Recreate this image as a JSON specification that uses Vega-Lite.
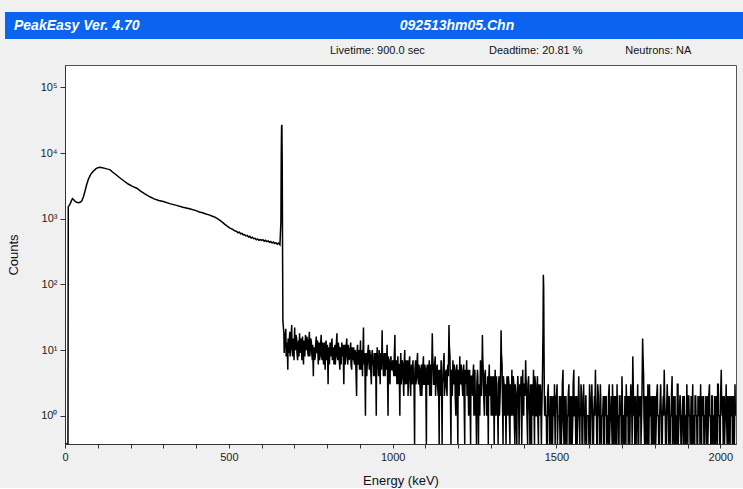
{
  "$schema": "https://vega.github.io/schema/vega-lite/v6.json",
  "background": "#f0f0f0",
  "padding": {"left": 5, "top": 12, "right": 0, "bottom": 0},
  "spacing": 26,
  "bounds": "flush",
  "config": {
    "font": "Liberation Sans",
    "view": {"stroke": "#555"}
  },
  "vconcat": [
    {
      "width": 738,
      "height": 27,
      "view": {"fill": "#0a64f0", "stroke": null},
      "data": {"values": [
        {"t": "PeakEasy Ver. 4.70", "pos": "left"},
        {"t": "092513hm05.Chn", "pos": "center"}
      ]},
      "layer": [
        {
          "transform": [{"filter": "datum.pos === 'left'"}],
          "mark": {"type": "text", "align": "left", "baseline": "middle", "fontStyle": "italic", "fontWeight": "bold", "fontSize": 14, "color": "white"},
          "encoding": {
            "text": {"field": "t"},
            "x": {"field": "pos", "type": "nominal", "scale": {"type": "point", "domain": ["left", "center"], "range": [9, 452], "padding": 0}, "axis": null}
          }
        },
        {
          "transform": [{"filter": "datum.pos === 'center'"}],
          "mark": {"type": "text", "align": "center", "baseline": "middle", "fontStyle": "italic", "fontWeight": "bold", "fontSize": 14, "color": "white"},
          "encoding": {
            "text": {"field": "t"},
            "x": {"field": "pos", "type": "nominal", "scale": {"type": "point", "domain": ["left", "center"], "range": [9, 452], "padding": 0}, "axis": null}
          }
        }
      ]
    },
    {
      "spacing": 0,
      "bounds": "flush",
      "hconcat": [
        {
          "width": 60,
          "height": 379,
          "view": {"stroke": null},
          "data": {"values": [{"t": ""}]},
          "mark": {"type": "text"},
          "encoding": {"text": {"field": "t"}}
        },
        {
          "width": 671,
          "height": 379,
          "view": {"fill": "white", "stroke": "#555"},
          "title": {
            "text": "Livetime: 900.0 sec\u00a0\u00a0\u00a0\u00a0\u00a0\u00a0\u00a0\u00a0\u00a0\u00a0\u00a0\u00a0\u00a0\u00a0\u00a0\u00a0\u00a0\u00a0\u00a0\u00a0\u00a0Deadtime: 20.81 %\u00a0\u00a0\u00a0\u00a0\u00a0\u00a0\u00a0\u00a0\u00a0\u00a0\u00a0\u00a0\u00a0\u00a0Neutrons: NA",
            "anchor": "start",
            "frame": "group",
            "dx": 265,
            "offset": 9,
            "fontSize": 11,
            "fontWeight": "normal",
            "color": "#111"
          },
          "data": {"values": [
            {"e":0,"c":0},{"e":9,"c":0},{"e":10,"c":1520},{"e":13,"c":1600},{"e":16,"c":1700},{"e":20,"c":1900},{"e":23,"c":2020},{"e":26,"c":1960},{"e":30,"c":1860},{"e":35,"c":1780},{"e":41,"c":1750},{"e":46,"c":1780},{"e":51,"c":1860},{"e":56,"c":2150},{"e":61,"c":2630},{"e":66,"c":3300},{"e":71,"c":3970},{"e":78,"c":4700},{"e":86,"c":5300},{"e":94,"c":5750},{"e":100,"c":6000},{"e":107,"c":6100},{"e":114,"c":6000},{"e":122,"c":5850},{"e":130,"c":5700},{"e":137,"c":5600},{"e":145,"c":5150},{"e":155,"c":4720},{"e":168,"c":4180},{"e":180,"c":3760},{"e":193,"c":3380},{"e":206,"c":3120},{"e":219,"c":2920},{"e":232,"c":2620},{"e":245,"c":2380},{"e":259,"c":2160},{"e":272,"c":2010},{"e":286,"c":1900},{"e":300,"c":1830},{"e":320,"c":1700},{"e":340,"c":1600},{"e":360,"c":1500},{"e":380,"c":1420},{"e":400,"c":1330},{"e":410,"c":1270},{"e":420,"c":1235},{"e":430,"c":1180},{"e":440,"c":1145},{"e":448,"c":1100},{"e":456,"c":1065},{"e":464,"c":1010},{"e":472,"c":955},{"e":480,"c":890},{"e":488,"c":820},{"e":496,"c":765},{"e":504,"c":720},{"e":512,"c":690},
            {"e":516,"c":665},{"e":520,"c":650},{"e":524,"c":640},{"e":528,"c":612},{"e":532,"c":625},{"e":536,"c":590},{"e":540,"c":598},{"e":544,"c":568},{"e":548,"c":575},{"e":552,"c":548},{"e":556,"c":558},{"e":560,"c":528},{"e":564,"c":540},{"e":568,"c":508},{"e":572,"c":522},{"e":576,"c":497},{"e":580,"c":503},{"e":584,"c":478},{"e":588,"c":492},{"e":592,"c":470},{"e":596,"c":482},{"e":600,"c":468},{"e":604,"c":480},{"e":608,"c":455},{"e":612,"c":470},{"e":616,"c":448},{"e":620,"c":460},{"e":624,"c":437},{"e":628,"c":450},{"e":632,"c":426},{"e":636,"c":441},{"e":640,"c":418},{"e":644,"c":432},{"e":648,"c":410},{"e":652,"c":425},{"e":656,"c":402},
            {"e":659,"c":900},{"e":660,"c":9000},{"e":661,"c":25500},{"e":662,"c":27000},{"e":663,"c":7000},{"e":664,"c":350},{"e":665,"c":28},{"e":666,"c":24},
            {"e":668,"c":18},{"e":669,"c":9},{"e":671,"c":14},{"e":672,"c":16},{"e":674,"c":21},{"e":675,"c":8},{"e":677,"c":11},{"e":678,"c":13},{"e":680,"c":5},{"e":681,"c":15},{"e":683,"c":9},{"e":684,"c":12},{"e":686,"c":19},{"e":687,"c":8},{"e":689,"c":13},{"e":690,"c":16},{"e":692,"c":24},{"e":693,"c":10},{"e":695,"c":8},{"e":696,"c":15},{"e":698,"c":12},{"e":699,"c":7},{"e":701,"c":22},{"e":702,"c":11},{"e":704,"c":10},{"e":705,"c":17},{"e":707,"c":15},{"e":708,"c":9},{"e":710,"c":7},{"e":711,"c":12},{"e":713,"c":14},{"e":714,"c":8},{"e":716,"c":18},{"e":717,"c":11},{"e":719,"c":9},{"e":720,"c":15},{"e":722,"c":13},{"e":723,"c":7},{"e":725,"c":16},{"e":726,"c":10},{"e":728,"c":6},{"e":729,"c":14},{"e":731,"c":12},{"e":732,"c":8},{"e":734,"c":17},{"e":735,"c":11},{"e":737,"c":10},{"e":738,"c":16},{"e":740,"c":14},{"e":741,"c":9},{"e":743,"c":8},{"e":744,"c":13},{"e":746,"c":19},{"e":747,"c":8},{"e":749,"c":11},{"e":750,"c":15},{"e":752,"c":13},{"e":753,"c":9},{"e":755,"c":7},{"e":756,"c":12},{"e":758,"c":4},{"e":759,"c":10},
            {"e":761,"c":11},{"e":762,"c":7},{"e":764,"c":8},{"e":765,"c":12},{"e":767,"c":16},{"e":768,"c":9},{"e":770,"c":10},{"e":771,"c":14},{"e":773,"c":6},{"e":774,"c":9},{"e":776,"c":13},{"e":777,"c":7},{"e":779,"c":9},{"e":780,"c":12},{"e":782,"c":17},{"e":783,"c":8},{"e":785,"c":7},{"e":786,"c":13},{"e":788,"c":12},{"e":789,"c":6},{"e":791,"c":10},{"e":792,"c":13},{"e":794,"c":5},{"e":795,"c":9},{"e":797,"c":14},{"e":798,"c":7},{"e":800,"c":9},{"e":801,"c":12},{"e":803,"c":3},{"e":804,"c":8},{"e":806,"c":11},{"e":807,"c":6},{"e":809,"c":13},{"e":810,"c":10},{"e":812,"c":8},{"e":813,"c":12},{"e":815,"c":15},{"e":816,"c":7},{"e":818,"c":10},{"e":819,"c":11},{"e":821,"c":6},{"e":822,"c":9},{"e":824,"c":12},{"e":825,"c":6},{"e":827,"c":9},{"e":828,"c":12},{"e":830,"c":18},{"e":831,"c":8},{"e":833,"c":7},{"e":834,"c":13},{"e":836,"c":11},{"e":837,"c":7},{"e":839,"c":5},{"e":840,"c":11},{"e":842,"c":10},{"e":843,"c":6},{"e":845,"c":13},{"e":846,"c":9},{"e":848,"c":8},{"e":849,"c":12},{"e":851,"c":3},{"e":852,"c":7},{"e":854,"c":12},{"e":855,"c":6},{"e":857,"c":9},{"e":858,"c":11},{"e":860,"c":15},{"e":861,"c":8},{"e":863,"c":6},{"e":864,"c":12},{"e":866,"c":10},{"e":867,"c":7},{"e":869,"c":8},{"e":870,"c":10},{"e":872,"c":13},{"e":873,"c":6},{"e":875,"c":5},{"e":876,"c":11},{"e":878,"c":9},{"e":879,"c":7},
            {"e":881,"c":11},{"e":882,"c":7},{"e":884,"c":6},{"e":885,"c":10},{"e":887,"c":9},{"e":888,"c":5},{"e":890,"c":2},{"e":891,"c":9},{"e":893,"c":12},{"e":894,"c":6},{"e":896,"c":7},{"e":897,"c":10},{"e":899,"c":5},{"e":900,"c":7},{"e":902,"c":14},{"e":903,"c":5},{"e":905,"c":8},{"e":906,"c":10},{"e":908,"c":4},{"e":909,"c":7},{"e":911,"c":22},{"e":912,"c":8},{"e":914,"c":6},{"e":915,"c":9},{"e":917,"c":1},{"e":918,"c":6},{"e":920,"c":9},{"e":921,"c":4},{"e":923,"c":7},{"e":924,"c":9},{"e":926,"c":12},{"e":927,"c":7},{"e":929,"c":5},{"e":930,"c":10},{"e":932,"c":8},{"e":933,"c":5},{"e":935,"c":3},{"e":936,"c":8},{"e":938,"c":10},{"e":939,"c":6},{"e":941,"c":6},{"e":942,"c":4},{"e":944,"c":9},{"e":945,"c":7},{"e":947,"c":4},{"e":948,"c":9},{"e":950,"c":1},{"e":951,"c":6},{"e":953,"c":11},{"e":954,"c":8},{"e":956,"c":5},{"e":957,"c":4},{"e":959,"c":10},{"e":960,"c":7},{"e":962,"c":3},{"e":963,"c":9},{"e":965,"c":8},{"e":966,"c":5},{"e":968,"c":20},{"e":969,"c":8},{"e":971,"c":6},{"e":972,"c":4},{"e":974,"c":9},{"e":975,"c":6},{"e":977,"c":4},{"e":978,"c":9},{"e":980,"c":7},{"e":981,"c":5},{"e":983,"c":12},{"e":984,"c":6},{"e":986,"c":1},{"e":987,"c":8},{"e":989,"c":6},{"e":990,"c":4},{"e":992,"c":3},{"e":993,"c":7},{"e":995,"c":8},{"e":996,"c":5},{"e":998,"c":5},{"e":999,"c":6},
            {"e":1001,"c":7},{"e":1002,"c":5},{"e":1004,"c":4},{"e":1005,"c":8},{"e":1007,"c":17},{"e":1008,"c":4},{"e":1010,"c":5},{"e":1011,"c":7},{"e":1013,"c":3},{"e":1014,"c":5},{"e":1016,"c":8},{"e":1017,"c":3},{"e":1019,"c":6},{"e":1020,"c":6},{"e":1022,"c":1},{"e":1023,"c":5},{"e":1025,"c":9},{"e":1026,"c":3},{"e":1028,"c":4},{"e":1029,"c":7},{"e":1031,"c":6},{"e":1032,"c":4},{"e":1034,"c":2},{"e":1035,"c":6},{"e":1037,"c":10},{"e":1038,"c":3},{"e":1040,"c":5},{"e":1041,"c":7},{"e":1043,"c":3},{"e":1044,"c":5},{"e":1046,"c":7},{"e":1047,"c":2},{"e":1049,"c":4},{"e":1050,"c":6},{"e":1052,"c":8},{"e":1053,"c":4},{"e":1055,"c":2},{"e":1056,"c":5},{"e":1058,"c":6},{"e":1059,"c":3},{"e":1061,"c":5},{"e":1062,"c":7},{"e":1064,"c":3},{"e":1065,"c":4},{"e":1067,"c":0},{"e":1068,"c":5},{"e":1070,"c":7},{"e":1071,"c":3},{"e":1073,"c":4},{"e":1074,"c":6},{"e":1076,"c":9},{"e":1077,"c":4},{"e":1079,"c":3},{"e":1080,"c":6},{"e":1082,"c":5},{"e":1083,"c":3},{"e":1085,"c":2},{"e":1086,"c":5},{"e":1088,"c":6},{"e":1089,"c":2},{"e":1091,"c":4},{"e":1092,"c":5},{"e":1094,"c":8},{"e":1095,"c":3},{"e":1097,"c":3},{"e":1098,"c":6},
            {"e":1100,"c":5},{"e":1101,"c":4},{"e":1103,"c":0},{"e":1104,"c":5},{"e":1106,"c":6},{"e":1107,"c":3},{"e":1109,"c":3},{"e":1110,"c":5},{"e":1112,"c":7},{"e":1113,"c":2},{"e":1115,"c":4},{"e":1116,"c":6},{"e":1118,"c":2},{"e":1119,"c":4},{"e":1121,"c":18},{"e":1122,"c":9},{"e":1124,"c":5},{"e":1125,"c":3},{"e":1127,"c":3},{"e":1128,"c":6},{"e":1130,"c":8},{"e":1131,"c":2},{"e":1133,"c":4},{"e":1134,"c":5},{"e":1136,"c":6},{"e":1137,"c":3},{"e":1139,"c":2},{"e":1140,"c":5},{"e":1142,"c":0},{"e":1143,"c":4},{"e":1145,"c":5},{"e":1146,"c":2},{"e":1148,"c":7},{"e":1149,"c":5},{"e":1151,"c":0},{"e":1152,"c":3},{"e":1154,"c":4},{"e":1155,"c":6},{"e":1157,"c":9},{"e":1158,"c":2},{"e":1160,"c":3},{"e":1161,"c":4},{"e":1163,"c":5},{"e":1164,"c":3},{"e":1166,"c":2},{"e":1167,"c":5},{"e":1169,"c":6},{"e":1170,"c":4},{"e":1172,"c":24},{"e":1173,"c":12},{"e":1175,"c":8},{"e":1176,"c":3},{"e":1178,"c":0},{"e":1179,"c":5},{"e":1181,"c":4},{"e":1182,"c":2},{"e":1184,"c":7},{"e":1185,"c":4},{"e":1187,"c":3},{"e":1188,"c":6},{"e":1190,"c":5},{"e":1191,"c":2},{"e":1193,"c":1},{"e":1194,"c":4},{"e":1196,"c":6},{"e":1197,"c":3},{"e":1199,"c":0},{"e":1200,"c":5},{"e":1202,"c":4},{"e":1203,"c":2},{"e":1205,"c":8},{"e":1206,"c":4},{"e":1208,"c":3},{"e":1209,"c":6},{"e":1211,"c":5},{"e":1212,"c":3},{"e":1214,"c":2},{"e":1215,"c":4},{"e":1217,"c":6},{"e":1218,"c":2},{"e":1220,"c":0},{"e":1221,"c":5},{"e":1223,"c":4},{"e":1224,"c":3},{"e":1226,"c":7},{"e":1227,"c":2},{"e":1229,"c":3},{"e":1230,"c":5},{"e":1232,"c":1},{"e":1233,"c":3},{"e":1235,"c":5},{"e":1236,"c":2},{"e":1238,"c":0},{"e":1239,"c":4},
            {"e":1241,"c":4},{"e":1242,"c":3},{"e":1244,"c":2},{"e":1245,"c":4},{"e":1247,"c":6},{"e":1248,"c":1},{"e":1250,"c":3},{"e":1251,"c":5},{"e":1253,"c":1},{"e":1254,"c":2},{"e":1256,"c":0},{"e":1257,"c":3},{"e":1259,"c":5},{"e":1260,"c":4},{"e":1262,"c":0},{"e":1263,"c":2},{"e":1265,"c":3},{"e":1266,"c":1},{"e":1268,"c":7},{"e":1269,"c":4},{"e":1271,"c":2},{"e":1272,"c":3},{"e":1274,"c":17},{"e":1275,"c":8},{"e":1277,"c":4},{"e":1278,"c":2},{"e":1280,"c":1},{"e":1281,"c":4},{"e":1283,"c":5},{"e":1284,"c":2},{"e":1286,"c":3},{"e":1287,"c":1},{"e":1289,"c":2},{"e":1290,"c":4},{"e":1292,"c":0},{"e":1293,"c":3},{"e":1295,"c":6},{"e":1296,"c":2},{"e":1298,"c":3},{"e":1299,"c":4},{"e":1301,"c":1},{"e":1302,"c":3},{"e":1304,"c":4},{"e":1305,"c":1},{"e":1307,"c":2},{"e":1308,"c":4},{"e":1310,"c":0},{"e":1311,"c":2},{"e":1313,"c":5},{"e":1314,"c":1},{"e":1316,"c":3},{"e":1317,"c":4},{"e":1319,"c":1},{"e":1320,"c":2},{"e":1322,"c":0},{"e":1323,"c":3},{"e":1325,"c":4},{"e":1326,"c":1},{"e":1328,"c":2},{"e":1329,"c":3},{"e":1331,"c":20},{"e":1332,"c":9},{"e":1334,"c":6},{"e":1335,"c":2},{"e":1337,"c":0},{"e":1338,"c":4},{"e":1340,"c":3},{"e":1341,"c":1},
            {"e":1343,"c":2},{"e":1344,"c":3},{"e":1346,"c":0},{"e":1347,"c":1},{"e":1349,"c":4},{"e":1350,"c":2},{"e":1352,"c":1},{"e":1353,"c":4},{"e":1355,"c":3},{"e":1356,"c":1},{"e":1358,"c":0},{"e":1359,"c":3},{"e":1361,"c":2},{"e":1362,"c":1},{"e":1364,"c":5},{"e":1365,"c":2},{"e":1367,"c":1},{"e":1368,"c":4},{"e":1370,"c":3},{"e":1371,"c":1},{"e":1373,"c":0},{"e":1374,"c":3},{"e":1376,"c":2},{"e":1377,"c":1},{"e":1379,"c":0},{"e":1380,"c":2},{"e":1382,"c":4},{"e":1383,"c":3},{"e":1385,"c":1},{"e":1386,"c":0},{"e":1388,"c":3},{"e":1389,"c":2},{"e":1391,"c":2},{"e":1392,"c":4},{"e":1394,"c":0},{"e":1395,"c":1},{"e":1397,"c":5},{"e":1398,"c":2},{"e":1400,"c":1},{"e":1401,"c":3},{"e":1403,"c":3},{"e":1404,"c":2},{"e":1406,"c":7},{"e":1407,"c":4},{"e":1409,"c":2},{"e":1410,"c":1},{"e":1412,"c":0},{"e":1413,"c":3},{"e":1415,"c":4},{"e":1416,"c":2},{"e":1418,"c":1},{"e":1419,"c":0},{"e":1421,"c":3},{"e":1422,"c":2},{"e":1424,"c":0},{"e":1425,"c":3},{"e":1427,"c":2},{"e":1428,"c":1},{"e":1430,"c":5},{"e":1431,"c":2},{"e":1433,"c":0},{"e":1434,"c":4},{"e":1436,"c":3},{"e":1437,"c":1},{"e":1439,"c":1},{"e":1440,"c":2},{"e":1442,"c":4},{"e":1443,"c":1},{"e":1445,"c":0},{"e":1446,"c":3},{"e":1448,"c":2},{"e":1449,"c":1},{"e":1451,"c":3},{"e":1452,"c":2},{"e":1454,"c":0},{"e":1455,"c":1},
            {"e":1457,"c":3},{"e":1459,"c":20},{"e":1460,"c":140},{"e":1461,"c":90},{"e":1462,"c":12},{"e":1463,"c":2},{"e":1464,"c":1},
            {"e":1466,"c":2},{"e":1467,"c":1},{"e":1469,"c":1},{"e":1470,"c":0},{"e":1472,"c":0},{"e":1473,"c":2},{"e":1475,"c":3},{"e":1476,"c":1},{"e":1478,"c":1},{"e":1479,"c":0},{"e":1481,"c":2},{"e":1482,"c":1},{"e":1484,"c":0},{"e":1485,"c":2},{"e":1487,"c":1},{"e":1488,"c":0},{"e":1490,"c":2},{"e":1491,"c":1},{"e":1493,"c":1},{"e":1494,"c":3},
            {"e":1496,"c":0},{"e":1497,"c":1},{"e":1499,"c":2},{"e":1500,"c":2},{"e":1502,"c":3},{"e":1503,"c":0},{"e":1505,"c":1},{"e":1506,"c":1},{"e":1508,"c":1},{"e":1509,"c":2},{"e":1511,"c":0},{"e":1512,"c":1},{"e":1514,"c":2},{"e":1515,"c":0},{"e":1517,"c":1},{"e":1518,"c":3},{"e":1520,"c":5},{"e":1521,"c":1},{"e":1523,"c":0},{"e":1524,"c":2},
            {"e":1526,"c":1},{"e":1527,"c":0},{"e":1529,"c":2},{"e":1530,"c":1},{"e":1532,"c":0},{"e":1533,"c":1},{"e":1535,"c":1},{"e":1536,"c":2},{"e":1538,"c":3},{"e":1539,"c":0},{"e":1541,"c":1},{"e":1542,"c":2},{"e":1544,"c":0},{"e":1545,"c":1},{"e":1547,"c":2},{"e":1548,"c":0},{"e":1550,"c":1},{"e":1551,"c":3},{"e":1553,"c":5},{"e":1554,"c":1},
            {"e":1556,"c":1},{"e":1557,"c":2},{"e":1559,"c":0},{"e":1560,"c":1},{"e":1562,"c":2},{"e":1563,"c":0},{"e":1565,"c":1},{"e":1566,"c":1},{"e":1568,"c":4},{"e":1569,"c":2},{"e":1571,"c":0},{"e":1572,"c":1},{"e":1574,"c":1},{"e":1575,"c":3},{"e":1577,"c":2},{"e":1578,"c":0},{"e":1580,"c":0},{"e":1581,"c":1},{"e":1583,"c":3},{"e":1584,"c":1},
            {"e":1586,"c":1},{"e":1587,"c":0},{"e":1589,"c":2},{"e":1590,"c":2},{"e":1592,"c":0},{"e":1593,"c":1},{"e":1595,"c":1},{"e":1596,"c":1},{"e":1598,"c":1},{"e":1599,"c":0},{"e":1601,"c":3},{"e":1602,"c":2},{"e":1604,"c":0},{"e":1605,"c":1},{"e":1607,"c":2},{"e":1608,"c":3},{"e":1610,"c":1},{"e":1611,"c":0},{"e":1613,"c":0},{"e":1614,"c":1},
            {"e":1616,"c":2},{"e":1617,"c":1},{"e":1619,"c":5},{"e":1620,"c":2},{"e":1622,"c":1},{"e":1623,"c":0},{"e":1625,"c":0},{"e":1626,"c":3},{"e":1628,"c":2},{"e":1629,"c":1},{"e":1631,"c":1},{"e":1632,"c":0},{"e":1634,"c":3},{"e":1635,"c":2},{"e":1637,"c":0},{"e":1638,"c":1},{"e":1640,"c":1},{"e":1641,"c":1},{"e":1643,"c":2},{"e":1644,"c":0},
            {"e":1646,"c":0},{"e":1647,"c":2},{"e":1649,"c":1},{"e":1650,"c":1},{"e":1652,"c":2},{"e":1653,"c":0},{"e":1655,"c":1},{"e":1656,"c":1},{"e":1658,"c":0},{"e":1659,"c":2},{"e":1661,"c":3},{"e":1662,"c":0},{"e":1664,"c":1},{"e":1665,"c":1},{"e":1667,"c":2},{"e":1668,"c":1},{"e":1670,"c":0},{"e":1671,"c":3},{"e":1673,"c":1},{"e":1674,"c":0},
            {"e":1676,"c":2},{"e":1677,"c":1},{"e":1679,"c":0},{"e":1680,"c":2},{"e":1682,"c":1},{"e":1683,"c":0},{"e":1685,"c":3},{"e":1686,"c":1},{"e":1688,"c":1},{"e":1689,"c":0},{"e":1691,"c":0},{"e":1692,"c":2},{"e":1694,"c":2},{"e":1695,"c":1},{"e":1697,"c":1},{"e":1698,"c":0},{"e":1700,"c":4},{"e":1701,"c":2},{"e":1703,"c":0},{"e":1704,"c":1},
            {"e":1706,"c":1},{"e":1707,"c":0},{"e":1709,"c":2},{"e":1710,"c":1},{"e":1712,"c":0},{"e":1713,"c":3},{"e":1715,"c":1},{"e":1716,"c":1},{"e":1718,"c":2},{"e":1719,"c":0},{"e":1721,"c":1},{"e":1722,"c":2},{"e":1724,"c":0},{"e":1725,"c":1},{"e":1727,"c":3},{"e":1728,"c":2},{"e":1730,"c":1},{"e":1731,"c":0},{"e":1733,"c":8},{"e":1734,"c":4},
            {"e":1736,"c":1},{"e":1737,"c":2},{"e":1739,"c":0},{"e":1740,"c":1},{"e":1742,"c":2},{"e":1743,"c":0},{"e":1745,"c":1},{"e":1746,"c":1},{"e":1748,"c":3},{"e":1749,"c":0},{"e":1751,"c":0},{"e":1752,"c":2},{"e":1754,"c":1},{"e":1755,"c":1},{"e":1757,"c":2},{"e":1758,"c":0},{"e":1760,"c":1},{"e":1761,"c":2},{"e":1763,"c":15},{"e":1764,"c":9},
            {"e":1766,"c":4},{"e":1767,"c":1},{"e":1769,"c":0},{"e":1770,"c":2},{"e":1772,"c":1},{"e":1773,"c":0},{"e":1775,"c":2},{"e":1776,"c":1},{"e":1778,"c":0},{"e":1779,"c":3},{"e":1781,"c":1},{"e":1782,"c":0},{"e":1784,"c":3},{"e":1785,"c":1},{"e":1787,"c":1},{"e":1788,"c":2},{"e":1790,"c":0},{"e":1791,"c":1},{"e":1793,"c":2},{"e":1794,"c":0},
            {"e":1796,"c":1},{"e":1797,"c":2},{"e":1799,"c":0},{"e":1800,"c":1},{"e":1802,"c":2},{"e":1803,"c":0},{"e":1805,"c":1},{"e":1806,"c":2},{"e":1808,"c":3},{"e":1809,"c":1},{"e":1811,"c":1},{"e":1812,"c":0},{"e":1814,"c":0},{"e":1815,"c":1},{"e":1817,"c":2},{"e":1818,"c":3},{"e":1820,"c":1},{"e":1821,"c":0},{"e":1823,"c":0},{"e":1824,"c":1},
            {"e":1826,"c":2},{"e":1827,"c":1},{"e":1829,"c":5},{"e":1830,"c":2},{"e":1832,"c":1},{"e":1833,"c":0},{"e":1835,"c":0},{"e":1836,"c":1},{"e":1838,"c":3},{"e":1839,"c":2},{"e":1841,"c":1},{"e":1842,"c":0},{"e":1844,"c":2},{"e":1845,"c":1},{"e":1847,"c":0},{"e":1848,"c":1},{"e":1850,"c":1},{"e":1851,"c":2},{"e":1853,"c":4},{"e":1854,"c":0},
            {"e":1856,"c":1},{"e":1857,"c":2},{"e":1859,"c":0},{"e":1860,"c":1},{"e":1862,"c":2},{"e":1863,"c":0},{"e":1865,"c":1},{"e":1866,"c":1},{"e":1868,"c":0},{"e":1869,"c":3},{"e":1871,"c":3},{"e":1872,"c":0},{"e":1874,"c":1},{"e":1875,"c":1},{"e":1877,"c":2},{"e":1878,"c":2},{"e":1880,"c":0},{"e":1881,"c":0},{"e":1883,"c":1},{"e":1884,"c":1},
            {"e":1886,"c":2},{"e":1887,"c":0},{"e":1889,"c":1},{"e":1890,"c":2},{"e":1892,"c":0},{"e":1893,"c":1},{"e":1895,"c":1},{"e":1896,"c":0},{"e":1898,"c":3},{"e":1899,"c":1},{"e":1901,"c":0},{"e":1902,"c":2},{"e":1904,"c":2},{"e":1905,"c":1},{"e":1907,"c":1},{"e":1908,"c":0},{"e":1910,"c":1},{"e":1911,"c":2},{"e":1913,"c":0},{"e":1914,"c":1},
            {"e":1916,"c":3},{"e":1917,"c":0},{"e":1919,"c":1},{"e":1920,"c":1},{"e":1922,"c":0},{"e":1923,"c":2},{"e":1925,"c":2},{"e":1926,"c":1},{"e":1928,"c":1},{"e":1929,"c":0},{"e":1931,"c":0},{"e":1932,"c":2},{"e":1934,"c":1},{"e":1935,"c":1},{"e":1937,"c":2},{"e":1938,"c":0},{"e":1940,"c":3},{"e":1941,"c":1},{"e":1943,"c":0},{"e":1944,"c":2},
            {"e":1946,"c":1},{"e":1947,"c":1},{"e":1949,"c":2},{"e":1950,"c":0},{"e":1952,"c":0},{"e":1953,"c":1},{"e":1955,"c":1},{"e":1956,"c":2},{"e":1958,"c":0},{"e":1959,"c":1},{"e":1961,"c":2},{"e":1962,"c":0},{"e":1964,"c":1},{"e":1965,"c":2},{"e":1967,"c":3},{"e":1968,"c":1},{"e":1970,"c":1},{"e":1971,"c":0},{"e":1973,"c":0},{"e":1974,"c":2},
            {"e":1976,"c":2},{"e":1977,"c":0},{"e":1979,"c":1},{"e":1980,"c":1},{"e":1982,"c":0},{"e":1983,"c":2},{"e":1985,"c":1},{"e":1986,"c":0},{"e":1988,"c":2},{"e":1989,"c":1},{"e":1991,"c":0},{"e":1992,"c":3},{"e":1994,"c":3},{"e":1995,"c":1},{"e":1997,"c":1},{"e":1998,"c":0},{"e":2000,"c":0},{"e":2001,"c":2},{"e":2003,"c":5},{"e":2004,"c":2},
            {"e":2006,"c":1},{"e":2007,"c":2},{"e":2009,"c":0},{"e":2010,"c":1},{"e":2012,"c":2},{"e":2013,"c":0},{"e":2015,"c":1},{"e":2016,"c":1},{"e":2018,"c":3},{"e":2019,"c":1},{"e":2021,"c":0},{"e":2022,"c":2},{"e":2024,"c":1},{"e":2025,"c":0},{"e":2027,"c":2},{"e":2028,"c":1},{"e":2030,"c":0},{"e":2031,"c":2},{"e":2033,"c":1},{"e":2034,"c":1},{"e":2036,"c":2},{"e":2037,"c":0},{"e":2039,"c":0},{"e":2040,"c":2},{"e":2042,"c":1},{"e":2043,"c":0},{"e":2045,"c":3},{"e":2046,"c":1}
          ]},
          "mark": {"type": "line", "color": "black", "strokeWidth": 1.5, "clip": true, "invalid": null},
          "encoding": {
            "x": {
              "field": "e", "type": "quantitative", "title": "Energy (keV)",
              "scale": {"domain": [0, 2048], "nice": false, "zero": false},
              "axis": {
                "values": [0,100,200,300,400,500,600,700,800,900,1000,1100,1200,1300,1400,1500,1600,1700,1800,1900,2000],
                "labelExpr": "datum.value % 500 === 0 ? format(datum.value, 'd') : ''",
                "labelFlush": false, "labelOverlap": false, "grid": false,
                "tickSize": 4, "labelPadding": 3, "labelFontSize": 11, "labelColor": "#222",
                "titleFontSize": 13, "titleFontWeight": "normal", "titleColor": "#111", "titlePadding": 12,
                "domainColor": "#333", "tickColor": "#333"
              }
            },
            "y": {
              "field": "c", "type": "quantitative", "title": "Counts",
              "scale": {"type": "log", "domain": [0.37, 220000], "nice": false, "clamp": true},
              "axis": {
                "values": [1, 10, 100, 1000, 10000, 100000],
                "labelExpr": "'10' + ['⁰','¹','²','³','⁴','⁵'][round(log(datum.value) / LN10)]",
                "grid": false, "tickSize": 5, "labelPadding": 3, "labelFontSize": 11, "labelColor": "#222",
                "titleFontSize": 13, "titleFontWeight": "normal", "titleColor": "#111", "titlePadding": 20,
                "domainColor": "#333", "tickColor": "#333"
              }
            }
          }
        }
      ]
    }
  ]
}
